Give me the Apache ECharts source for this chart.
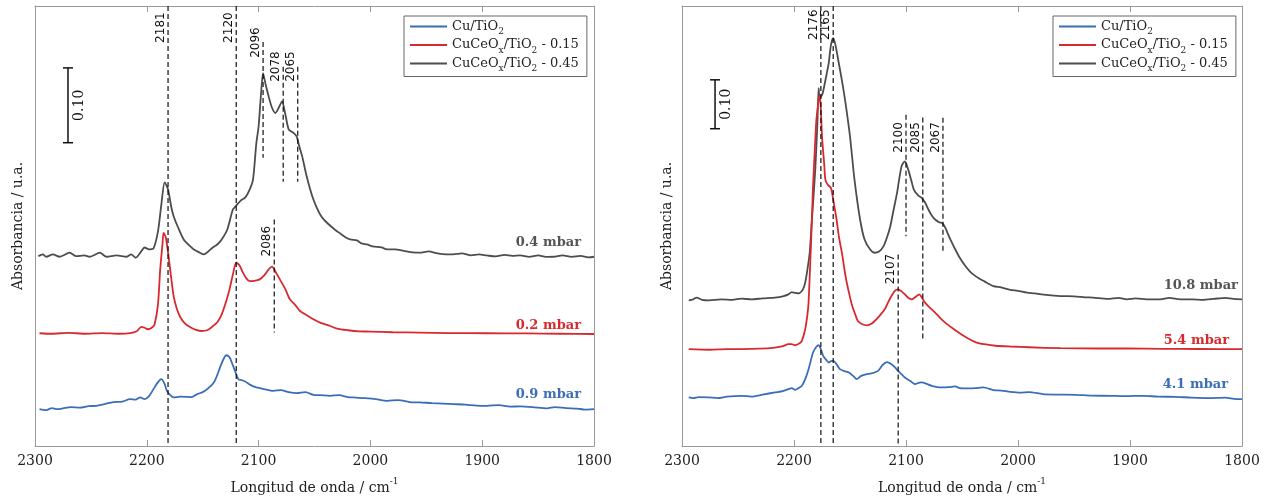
<!DOCTYPE html>
<html><head><meta charset="utf-8">
<script src="https://cdn.jsdelivr.net/npm/echarts@6/dist/echarts.min.js"></script>
<style>html,body{margin:0;padding:0;background:#fff}#c{width:1270px;height:500px}</style>
</head><body><div id="c"></div>
<script>
// ---------------- DATA ----------------
const xMin = 1800, xMax = 2300, xStep = 100;
const seriesNames = ['Cu/TiO2', 'CuCeOx/TiO2 - 0.15', 'CuCeOx/TiO2 - 0.45'];
const yMaxLeft = 0.588, yMaxRight = 0.90;

// Left panel spectra [wavenumber, absorbance (stacked)]
const leftBlue = [[2296,0.0493],[2290,0.0480],[2285,0.0507],[2280,0.0493],[2275,0.0503],[2268,0.0520],[2260,0.0513],[2252,0.0533],[2245,0.0537],[2238,0.0560],[2230,0.0587],[2222,0.0593],[2215,0.0627],[2210,0.0620],[2206,0.0649],[2202,0.0627],[2198,0.0667],[2194,0.0760],[2190,0.0853],[2187,0.0893],[2184,0.0827],[2182,0.0737],[2179,0.0680],[2176,0.0649],[2170,0.0660],[2164,0.0657],[2160,0.0653],[2155,0.0693],[2150,0.0720],[2146,0.0760],[2140,0.0849],[2137,0.0947],[2134,0.1071],[2131,0.1173],[2129,0.1213],[2126,0.1187],[2124,0.1116],[2121,0.1000],[2118,0.0893],[2115,0.0880],[2112,0.0863],[2107,0.0813],[2102,0.0783],[2095,0.0760],[2087,0.0737],[2080,0.0747],[2073,0.0720],[2066,0.0707],[2058,0.0720],[2051,0.0684],[2045,0.0680],[2036,0.0671],[2028,0.0680],[2020,0.0653],[2015,0.0649],[2005,0.0640],[1995,0.0627],[1985,0.0604],[1975,0.0613],[1965,0.0587],[1956,0.0583],[1945,0.0573],[1935,0.0567],[1926,0.0560],[1915,0.0553],[1905,0.0540],[1896,0.0537],[1885,0.0547],[1875,0.0527],[1866,0.0529],[1855,0.0520],[1842,0.0503],[1835,0.0520],[1825,0.0507],[1815,0.0500],[1808,0.0487],[1800,0.0493]];
const leftRed = [[2296,0.1507],[2285,0.1500],[2270,0.1513],[2255,0.1500],[2240,0.1509],[2225,0.1500],[2215,0.1507],[2209,0.1533],[2205,0.1591],[2202,0.1580],[2199,0.1560],[2195,0.1587],[2193,0.1627],[2190,0.1893],[2188,0.2360],[2186,0.2693],[2185,0.2849],[2183,0.2787],[2181,0.2587],[2178,0.2227],[2176,0.2004],[2173,0.1827],[2170,0.1720],[2166,0.1640],[2161,0.1587],[2156,0.1553],[2151,0.1537],[2146,0.1547],[2142,0.1587],[2137,0.1653],[2133,0.1760],[2129,0.1933],[2126,0.2093],[2123,0.2293],[2120,0.2449],[2117,0.2413],[2114,0.2316],[2111,0.2240],[2108,0.2204],[2104,0.2207],[2099,0.2227],[2095,0.2280],[2091,0.2360],[2088,0.2396],[2085,0.2333],[2081,0.2227],[2076,0.2093],[2072,0.1960],[2067,0.1880],[2063,0.1804],[2057,0.1747],[2051,0.1693],[2045,0.1649],[2036,0.1604],[2030,0.1569],[2020,0.1547],[2010,0.1533],[2000,0.1529],[1980,0.1520],[1956,0.1516],[1930,0.1509],[1896,0.1507],[1860,0.1504],[1830,0.1500],[1800,0.1497]];
const leftGray = [[2297,0.2537],[2293,0.2560],[2290,0.2529],[2284,0.2560],[2278,0.2529],[2269,0.2583],[2263,0.2537],[2256,0.2547],[2251,0.2529],[2242,0.2583],[2236,0.2529],[2227,0.2547],[2218,0.2529],[2214,0.2560],[2210,0.2516],[2205,0.2600],[2202,0.2653],[2198,0.2627],[2194,0.2640],[2190,0.2867],[2187,0.3227],[2184,0.3524],[2181,0.3427],[2178,0.3187],[2176,0.3071],[2172,0.2920],[2167,0.2760],[2162,0.2680],[2158,0.2627],[2153,0.2587],[2149,0.2560],[2145,0.2600],[2141,0.2653],[2137,0.2693],[2133,0.2760],[2128,0.2893],[2123,0.3160],[2120,0.3213],[2116,0.3280],[2112,0.3320],[2108,0.3427],[2105,0.3560],[2102,0.4050],[2100,0.4270],[2098,0.4670],[2096,0.4983],[2094,0.4850],[2091,0.4670],[2088,0.4520],[2085,0.4450],[2082,0.4520],[2079,0.4604],[2076,0.4427],[2073,0.4227],[2069,0.4187],[2066,0.4137],[2064,0.4027],[2061,0.3870],[2057,0.3604],[2052,0.3337],[2048,0.3187],[2044,0.3070],[2040,0.3000],[2033,0.2907],[2027,0.2840],[2022,0.2787],[2018,0.2760],[2012,0.2747],[2008,0.2707],[2003,0.2693],[1998,0.2667],[1990,0.2653],[1985,0.2627],[1978,0.2627],[1970,0.2607],[1962,0.2587],[1956,0.2583],[1948,0.2600],[1940,0.2573],[1932,0.2560],[1926,0.2560],[1918,0.2573],[1910,0.2547],[1903,0.2560],[1896,0.2547],[1888,0.2533],[1880,0.2553],[1873,0.2540],[1866,0.2547],[1858,0.2527],[1850,0.2547],[1843,0.2527],[1836,0.2529],[1828,0.2547],[1820,0.2527],[1812,0.2540],[1805,0.2520],[1800,0.2529]];

// Right panel spectra
const rightBlue = [[2294,0.0994],[2290,0.0980],[2285,0.1000],[2276,0.0994],[2268,0.0980],[2260,0.1010],[2247,0.1027],[2238,0.1010],[2228,0.1051],[2217,0.1096],[2210,0.1122],[2205,0.1163],[2202,0.1184],[2199,0.1149],[2196,0.1184],[2193,0.1231],[2190,0.1367],[2187,0.1571],[2183,0.1912],[2180,0.2031],[2178,0.2061],[2176,0.1980],[2174,0.1843],[2171,0.1755],[2169,0.1708],[2167,0.1735],[2165,0.1741],[2162,0.1673],[2159,0.1571],[2155,0.1531],[2151,0.1504],[2147,0.1429],[2144,0.1367],[2140,0.1435],[2135,0.1469],[2131,0.1484],[2125,0.1537],[2121,0.1653],[2117,0.1714],[2113,0.1673],[2110,0.1612],[2107,0.1537],[2104,0.1469],[2101,0.1402],[2096,0.1327],[2092,0.1265],[2088,0.1296],[2086,0.1300],[2081,0.1265],[2077,0.1231],[2072,0.1204],[2068,0.1198],[2062,0.1204],[2056,0.1218],[2052,0.1184],[2044,0.1178],[2038,0.1184],[2031,0.1198],[2022,0.1143],[2015,0.1133],[2007,0.1108],[1998,0.1092],[1990,0.1102],[1978,0.1061],[1965,0.1051],[1948,0.1047],[1935,0.1031],[1918,0.1027],[1905,0.1020],[1888,0.1027],[1875,0.1010],[1859,0.1006],[1845,0.0990],[1829,0.0980],[1815,0.0990],[1805,0.0959],[1800,0.0959]];
const rightRed = [[2294,0.1980],[2275,0.1969],[2260,0.1980],[2247,0.1980],[2230,0.1990],[2217,0.2014],[2210,0.2041],[2205,0.2082],[2202,0.2082],[2199,0.2061],[2195,0.2102],[2193,0.2149],[2190,0.2388],[2188,0.2694],[2187,0.2933],[2185,0.4020],[2183,0.5312],[2181,0.6265],[2180,0.6673],[2178,0.7082],[2177,0.7184],[2176,0.6878],[2175,0.6333],[2173,0.5755],[2172,0.5449],[2170,0.5347],[2167,0.5280],[2165,0.5041],[2162,0.4633],[2160,0.4292],[2157,0.3918],[2154,0.3476],[2151,0.3143],[2148,0.2863],[2145,0.2673],[2143,0.2557],[2139,0.2490],[2135,0.2469],[2131,0.2500],[2128,0.2557],[2124,0.2653],[2119,0.2796],[2116,0.2939],[2113,0.3067],[2110,0.3173],[2107,0.3204],[2104,0.3163],[2101,0.3102],[2098,0.3031],[2095,0.3000],[2092,0.3041],[2088,0.3102],[2086,0.3041],[2083,0.2933],[2079,0.2837],[2074,0.2729],[2070,0.2633],[2065,0.2524],[2059,0.2418],[2053,0.2320],[2045,0.2204],[2037,0.2116],[2030,0.2082],[2020,0.2051],[2007,0.2035],[1990,0.2020],[1962,0.2000],[1930,0.1994],[1903,0.1994],[1870,0.1988],[1840,0.1984],[1800,0.1980]];
const rightGray = [[2294,0.2980],[2290,0.3000],[2287,0.3035],[2282,0.2990],[2276,0.2980],[2265,0.3000],[2255,0.2990],[2247,0.3014],[2238,0.3000],[2228,0.3020],[2217,0.3035],[2210,0.3061],[2205,0.3102],[2202,0.3149],[2199,0.3133],[2196,0.3122],[2192,0.3204],[2190,0.3341],[2188,0.3612],[2186,0.3953],[2184,0.4633],[2181,0.5653],[2179,0.6673],[2178,0.7320],[2177,0.7116],[2175,0.7184],[2174,0.7251],[2171,0.7592],[2169,0.7831],[2167,0.8204],[2165,0.8341],[2163,0.8204],[2160,0.7831],[2157,0.7449],[2154,0.7014],[2150,0.6333],[2146,0.5449],[2141,0.4633],[2137,0.4224],[2132,0.4020],[2128,0.3953],[2124,0.3980],[2120,0.4088],[2117,0.4265],[2114,0.4496],[2111,0.4837],[2108,0.5177],[2104,0.5720],[2101,0.5822],[2098,0.5653],[2095,0.5408],[2093,0.5245],[2089,0.5122],[2086,0.5075],[2083,0.4980],[2080,0.4837],[2077,0.4714],[2074,0.4633],[2070,0.4571],[2068,0.4565],[2065,0.4469],[2063,0.4361],[2060,0.4204],[2056,0.4020],[2052,0.3851],[2047,0.3680],[2043,0.3571],[2040,0.3510],[2035,0.3429],[2030,0.3367],[2022,0.3271],[2015,0.3245],[2007,0.3194],[2000,0.3173],[1992,0.3137],[1985,0.3122],[1975,0.3092],[1962,0.3067],[1950,0.3061],[1940,0.3041],[1933,0.3035],[1920,0.3010],[1910,0.3031],[1903,0.3000],[1895,0.3020],[1885,0.3000],[1873,0.3000],[1865,0.3031],[1855,0.3000],[1844,0.3000],[1835,0.2990],[1825,0.3010],[1815,0.3031],[1808,0.3010],[1800,0.3000]];

// Peak markers: wavenumber, line top, line bottom, label start (absorbance units)
const peaksLeft      = [2181, 2120, 2096, 2078, 2065, 2086];
const peakTopLeft    = [0.588, 0.588, 0.540, 0.5067, 0.5067, 0.3027];
const peakBottomLeft = [0, 0, 0.3853, 0.3533, 0.3533, 0.1516];
const peakLabelLeft  = [0.5387, 0.5387, 0.5187, 0.4867, 0.4867, 0.2533];
const peaksRight      = [2176, 2165, 2100, 2085, 2067, 2107];
const peakTopRight    = [0.90, 0.90, 0.6776, 0.672, 0.6714, 0.3918];
const peakBottomRight = [0, 0, 0.4292, 0.2184, 0.3986, 0];
const peakLabelRight  = [0.8306, 0.8306, 0.600, 0.600, 0.600, 0.3306];

// Scale bars (0.10 absorbance)
const scaleBarSize = 0.10;
const scaleBarLeft = [2270.5, 0.4053];
const scaleBarRight = [2270.5, 0.649];

// Pressure labels
const pressureLeft = ['0.4 mbar', '0.2 mbar', '0.9 mbar'];
const pressureLeftPos = [[1811.6, 0.2724], [1811.6, 0.1604], [1811.6, 0.0680]];
const pressureRight = ['10.8 mbar', '5.4 mbar', '4.1 mbar'];
const pressureRightPos = [[1803.6, 0.3271], [1811.6, 0.2149], [1812.5, 0.1265]];

// ---------------- STYLE ----------------
const colors = ['#3c6db8', '#d62a2e', '#4d4d4d'];
const labelColors = ['#555555', '#d62a2e', '#3c6db8'];
const serif = '"DejaVu Serif", serif';
const axisGray = '#9a9a9a';

const legendRich = {
  'Cu/TiO2': '{t|Cu/TiO}{s|2}',
  'CuCeOx/TiO2 - 0.15': '{t|CuCeO}{s|x}{t|/TiO}{s|2}{t| - 0.15}',
  'CuCeOx/TiO2 - 0.45': '{t|CuCeO}{s|x}{t|/TiO}{s|2}{t| - 0.45}'
};

function xAx(grid, pos) {
  const bottom = pos === 'bottom';
  return {
    type: 'value', gridIndex: grid, position: pos, inverse: true,
    min: xMin, max: xMax, interval: xStep,
    axisLine: { show: true, onZero: false, lineStyle: { color: axisGray, width: 1 } },
    axisTick: { show: true, inside: true, length: 6, lineStyle: { color: axisGray } },
    axisLabel: { show: bottom, margin: 8, fontFamily: serif, fontSize: 14, color: '#222',
      formatter: v => String(v) },
    splitLine: { show: false },
    name: bottom ? '{a|Longitud de onda / cm}{b|-1}' : '',
    nameLocation: 'middle', nameGap: 31,
    nameTextStyle: { rich: {
      a: { fontFamily: serif, fontSize: 14, color: '#222', lineHeight: 18, verticalAlign: 'bottom' },
      b: { fontFamily: serif, fontSize: 9, color: '#222', lineHeight: 10, verticalAlign: 'top' }
    } }
  };
}
function yAx(grid, pos, max, gap) {
  const left = pos === 'left';
  return {
    type: 'value', gridIndex: grid, position: pos, min: 0, max: max,
    axisLine: { show: true, onZero: false, lineStyle: { color: axisGray, width: 1 } },
    axisTick: { show: false }, axisLabel: { show: false }, splitLine: { show: false },
    name: left ? 'Absorbancia / u.a.' : '', nameLocation: 'middle', nameGap: gap,
    nameTextStyle: { fontFamily: serif, fontSize: 14, color: '#222' }
  };
}
function lineSeries(name, data, ci, xi, yi) {
  return {
    type: 'line', name: name, data: data, xAxisIndex: xi, yAxisIndex: yi,
    showSymbol: false, symbol: 'none', smooth: 0.25, silent: true,
    itemStyle: { color: colors[ci] },
    lineStyle: { color: colors[ci], width: 1.8 }, z: 3
  };
}
function peakSeries(xi, yi, peaks, tops, bottoms, labs) {
  return {
    type: 'custom', xAxisIndex: xi, yAxisIndex: yi, silent: true, z: 5,
    data: peaks.map((p, i) => [p, tops[i], bottoms[i], labs[i]]),
    renderItem(params, api) {
      const x = api.value(0);
      const a = api.coord([x, api.value(1)]);
      const b = api.coord([x, api.value(2)]);
      const l = api.coord([x, api.value(3)]);
      return { type: 'group', children: [
        { type: 'line', shape: { x1: a[0], y1: a[1], x2: b[0], y2: b[1] },
          style: { stroke: '#111', lineWidth: 1.2, lineDash: [5, 3] } },
        { type: 'text', x: l[0] - 1, y: l[1], rotation: Math.PI / 2,
          style: { text: String(x), fill: '#111', font: '12px "DejaVu Sans", sans-serif', align: 'left', verticalAlign: 'bottom' } }
      ] };
    }
  };
}
function scaleSeries(xi, yi, bar) {
  return {
    type: 'custom', xAxisIndex: xi, yAxisIndex: yi, silent: true, z: 5,
    data: [[bar[0], bar[1], bar[1] + scaleBarSize]],
    renderItem(params, api) {
      const b = api.coord([api.value(0), api.value(1)]);
      const t = api.coord([api.value(0), api.value(2)]);
      const st = { stroke: '#111', lineWidth: 1.5 };
      return { type: 'group', children: [
        { type: 'line', shape: { x1: b[0], y1: b[1], x2: t[0], y2: t[1] }, style: st },
        { type: 'line', shape: { x1: b[0] - 5, y1: b[1], x2: b[0] + 5, y2: b[1] }, style: st },
        { type: 'line', shape: { x1: t[0] - 5, y1: t[1], x2: t[0] + 5, y2: t[1] }, style: st },
        { type: 'text', x: b[0] + 4, y: (b[1] + t[1]) / 2, rotation: Math.PI / 2,
          style: { text: scaleBarSize.toFixed(2), fill: '#111', font: '14px ' + serif, align: 'center', verticalAlign: 'top' } }
      ] };
    }
  };
}
function pressureSeries(xi, yi, texts, pos) {
  return {
    type: 'custom', xAxisIndex: xi, yAxisIndex: yi, silent: true, z: 6,
    data: pos,
    renderItem(params, api) {
      const p = api.coord([api.value(0), api.value(1)]);
      return { type: 'text', x: p[0], y: p[1],
        style: { text: texts[params.dataIndex], fill: labelColors[params.dataIndex],
          font: 'bold 13px ' + serif, align: 'right', verticalAlign: 'middle' } };
    }
  };
}
function legendAt(left) {
  return {
    left: left, top: 16, orient: 'vertical', data: seriesNames, selectedMode: false,
    icon: 'rect', itemWidth: 37, itemHeight: 2, itemGap: 2,
    padding: [4, 8, 3, 6], borderColor: '#666', borderWidth: 1, backgroundColor: '#fff',
    formatter: n => legendRich[n],
    textStyle: { rich: {
      t: { fontFamily: serif, fontSize: 13, color: '#222', lineHeight: 20, verticalAlign: 'middle' },
      s: { fontFamily: serif, fontSize: 9, color: '#222', lineHeight: 10, verticalAlign: 'bottom' }
    } }
  };
}

const chart = echarts.init(document.getElementById('c'), null, { renderer: 'canvas' });
chart.setOption({
  animation: false,
  backgroundColor: '#fff',
  grid: [
    { left: 35, top: 6, width: 559, height: 441, containLabel: false },
    { left: 682, top: 6, width: 560, height: 441, containLabel: false }
  ],
  xAxis: [xAx(0, 'bottom'), xAx(0, 'top'), xAx(1, 'bottom'), xAx(1, 'top')],
  yAxis: [yAx(0, 'left', yMaxLeft, 10), yAx(0, 'right', yMaxLeft, 0), yAx(1, 'left', yMaxRight, 8), yAx(1, 'right', yMaxRight, 0)],
  legend: [legendAt(404), legendAt(1053)],
  series: [
    lineSeries(seriesNames[0], leftBlue, 0, 0, 0),
    lineSeries(seriesNames[1], leftRed, 1, 0, 0),
    lineSeries(seriesNames[2], leftGray, 2, 0, 0),
    lineSeries(seriesNames[0], rightBlue, 0, 2, 2),
    lineSeries(seriesNames[2], rightGray, 2, 2, 2),
    lineSeries(seriesNames[1], rightRed, 1, 2, 2),
    peakSeries(0, 0, peaksLeft, peakTopLeft, peakBottomLeft, peakLabelLeft),
    peakSeries(2, 2, peaksRight, peakTopRight, peakBottomRight, peakLabelRight),
    scaleSeries(0, 0, scaleBarLeft),
    scaleSeries(2, 2, scaleBarRight),
    pressureSeries(0, 0, pressureLeft, pressureLeftPos),
    pressureSeries(2, 2, pressureRight, pressureRightPos)
  ]
});
</script></body></html>
